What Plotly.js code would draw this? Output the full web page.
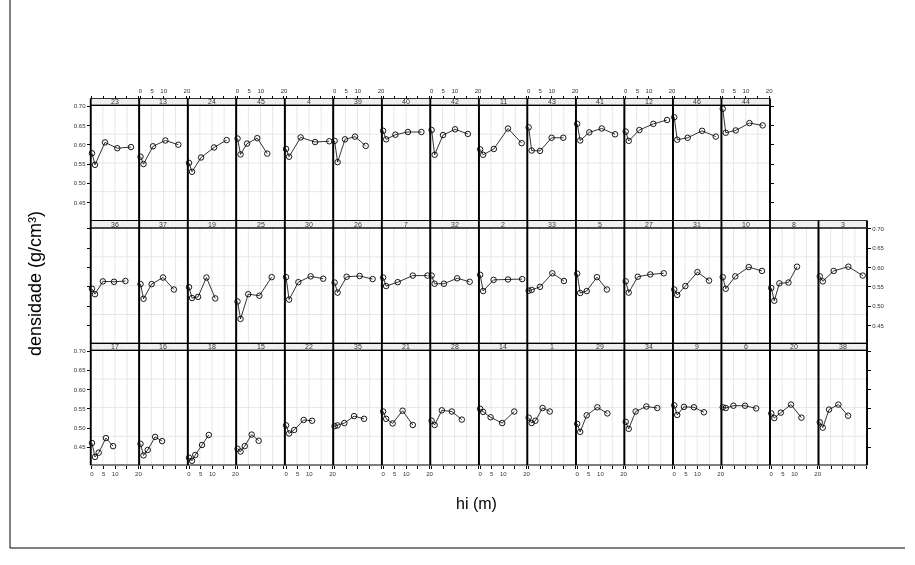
<!DOCTYPE html>
<html><head><meta charset="utf-8">
<script src="https://cdn.plot.ly/plotly-3.0.1.min.js"></script>
<style>html,body{margin:0;padding:0;background:#fff}#chart{width:915px;height:565px;filter:grayscale(100%)}</style>
</head><body><div id="chart"></div>
<script>
// ---- data ----
const row1Labels = ["23","13","24","45","4","39","40","42","11","43","41","12","46","44"];
const row1X = [
 [0,1.3,5.6,10.9,16.8],[0,1.3,5.4,10.7,16.3],[0,1.3,5.2,10.8,16.2],[0,1.3,4.1,8.5,12.8],
 [0,1.3,6.3,12.5,18.6],[0,1.3,4.5,8.8,13.4],[0,1.3,5.3,10.7,16.5],[0,1.3,4.9,10.1,15.6],
 [0,1.3,5.9,12.0,17.9],[0,1.3,4.9,9.9,14.9],[0,1.3,5.2,10.6,16.3],[0,1.3,5.9,11.9,17.8],
 [0,1.3,5.8,12.0,17.9],[0,1.3,5.6,11.5,17.2]];
const row1Y = [
 [0.578,0.548,0.606,0.591,0.594],[0.569,0.550,0.596,0.611,0.600],[0.553,0.530,0.567,0.593,0.612],
 [0.616,0.575,0.603,0.617,0.577],[0.589,0.569,0.619,0.607,0.609],[0.610,0.555,0.614,0.621,0.597],
 [0.636,0.614,0.626,0.633,0.633],[0.638,0.574,0.625,0.640,0.628],[0.588,0.574,0.589,0.642,0.604],
 [0.645,0.585,0.584,0.618,0.618],[0.654,0.611,0.632,0.642,0.627],[0.634,0.610,0.638,0.654,0.664],
 [0.671,0.613,0.618,0.636,0.621],[0.693,0.631,0.637,0.656,0.650]];

const row2Labels = ["36","37","19","25","30","26","7","32","2","33","5","27","31","10","8","3"];
const row2X = [
 [0,1.3,4.7,9.5,14.4],[0,1.3,4.8,9.7,14.4],[0,1.3,3.9,7.5,11.3],[0,1.3,4.6,9.4,14.7],
 [0,1.3,5.3,10.6,16.0],[0,1.3,5.2,10.8,16.4],[0,1.3,6.3,12.8,19.1],[0,1.3,5.3,11.0,16.4],
 [0,1.3,5.8,12.0,18.1],[0,1.3,4.9,10.2,15.2],[0,1.3,4.1,8.5,12.8],[0,1.3,5.2,10.6,16.4],
 [0,1.3,4.8,10.0,15.0],[0,1.3,5.4,11.2,16.9],[0,1.3,3.5,7.4,11.1],[0,1.3,6.0,12.3,18.5]];
const row2Y = [
 [0.545,0.531,0.564,0.563,0.565],[0.557,0.519,0.557,0.574,0.543],[0.549,0.521,0.524,0.574,0.520],
 [0.512,0.467,0.531,0.527,0.575],[0.575,0.517,0.562,0.577,0.571],[0.561,0.535,0.576,0.578,0.570],
 [0.574,0.552,0.562,0.579,0.579],[0.579,0.558,0.558,0.572,0.563],[0.581,0.539,0.568,0.569,0.570],
 [0.540,0.542,0.550,0.585,0.565],[0.584,0.534,0.539,0.575,0.543],[0.564,0.535,0.576,0.582,0.585],
 [0.543,0.529,0.552,0.588,0.566],[0.575,0.545,0.577,0.601,0.591],[0.547,0.514,0.559,0.561,0.602],
 [0.577,0.564,0.591,0.602,0.579]];

const row3Labels = ["17","16","18","15","22","35","21","28","14","1","29","34","9","6","20","38"];
const row3X = [
 [0,1.3,2.9,6.0,9.1],[0,1.3,3.1,6.3,9.3],[0,1.3,2.7,5.6,8.5],[0,1.3,3.1,6.1,9.1],
 [0,1.3,3.5,7.6,11.2],[0,1.3,4.2,8.4,12.7],[0,1.3,4.1,8.4,12.8],[0,1.3,4.4,8.7,13.0],
 [0,1.3,4.5,9.5,14.7],[0,1.3,2.9,6.0,9.1],[0,1.3,4.1,8.7,13.0],[0,1.3,4.3,8.9,13.6],
 [0,1.3,4.2,8.5,12.8],[0,1.3,4.6,9.6,14.4],[0,1.3,4.1,8.5,13.0],[0,1.3,4.0,8.0,12.2]];
const row3Y = [
 [0.461,0.425,0.436,0.474,0.453],[0.459,0.429,0.443,0.477,0.466],[0.423,0.415,0.430,0.456,0.482],
 [0.446,0.439,0.453,0.483,0.467],[0.507,0.486,0.495,0.521,0.519],[0.505,0.507,0.513,0.531,0.524],
 [0.543,0.524,0.512,0.545,0.508],[0.519,0.508,0.546,0.543,0.522],[0.550,0.542,0.528,0.513,0.543],
 [0.527,0.513,0.519,0.552,0.543],[0.511,0.490,0.533,0.554,0.538],[0.516,0.498,0.543,0.556,0.552],
 [0.559,0.534,0.555,0.554,0.541],[0.554,0.552,0.558,0.558,0.551],[0.538,0.526,0.540,0.561,0.527],
 [0.515,0.501,0.548,0.561,0.532]];

const yTickVals = [0.45,0.50,0.55,0.60,0.65,0.70];
const xTickVals = [0,5,10,15,20];
const xTickText = ["0","5","10","","20"];
const yTitle = "densidade (g/cm³)";
const xTitle = "hi (m)";

// ---- layout geometry ----
const W=915, H=565;
const PX0=90.7, PW=48.52;
const XRANGE=[-0.55,20.35], YRANGE=[0.404,0.702];
const rowsPx = [
 {strip:[98.5,105.3], panel:[105.3,220.5]},
 {strip:[220.5,228.0], panel:[228.0,343.3]},
 {strip:[343.3,350.3], panel:[350.3,465.0]}
];
const rows = [
 {labels:row1Labels, x:row1X, y:row1Y},
 {labels:row2Labels, x:row2X, y:row2Y},
 {labels:row3Labels, x:row3X, y:row3Y}
];
const fx = p => p/W, fy = p => 1 - p/H;
const FONT = "Liberation Sans, Arial, Helvetica, sans-serif";
const tickFont = {family:FONT, size:6, color:'#333'};

const traces=[], shapes=[], annotations=[];
const layout = {
  width:W, height:H, margin:{l:0,r:0,t:0,b:0},
  paper_bgcolor:'#fff', plot_bgcolor:'rgba(0,0,0,0)', showlegend:false,
  font:{family:FONT}
};
let n=0;
rows.forEach((row,r)=>{
  const np=row.labels.length;
  const [T,B]=rowsPx[r].panel, [ST,SB]=rowsPx[r].strip;
  row.labels.forEach((lab,i)=>{
    n++;
    const xa = n===1?'xaxis':'xaxis'+n, ya = n===1?'yaxis':'yaxis'+n;
    const xid = n===1?'x':'x'+n, yid = n===1?'y':'y'+n;
    const L=PX0+PW*i, R=L+PW;
    traces.push({type:'scatter', mode:'lines+markers', x:row.x[i], y:row.y[i],
      xaxis:xid, yaxis:yid, cliponaxis:false,
      line:{color:'#000', width:0.8},
      marker:{symbol:'circle-open', size:5.5, color:'#000', line:{width:0.9, color:'#000'}},
      hoverinfo:'skip'});
    const xAx = {domain:[fx(L),fx(R)], range:XRANGE, showgrid:false, zeroline:false, showline:false,
      fixedrange:true, tickvals:xTickVals, ticktext:xTickText, tickfont:tickFont,
      ticks:'', showticklabels:false, anchor:yid, automargin:false,
      tickcolor:'#000', tickwidth:1, ticklen:3};
    if (r===0){ xAx.side='top'; xAx.anchor='free'; xAx.position=fy(ST); xAx.ticks='outside'; xAx.showticklabels=(i%2===1); }
    if (r===2){ xAx.ticks='outside'; xAx.showticklabels=(i%2===0); }
    layout[xa]=xAx;
    const yAx = {domain:[fy(B),fy(T)], range:YRANGE, showgrid:false, zeroline:false, showline:false,
      fixedrange:true, tickvals:yTickVals, tickformat:'.2f', tickfont:tickFont,
      ticks:'', showticklabels:false, anchor:xid, automargin:false,
      tickcolor:'#000', tickwidth:1, ticklen:3};
    if (i===0){ yAx.ticks='outside'; yAx.showticklabels=(r!==1); }
    if (i===np-1){ yAx.side='right'; yAx.ticks='outside'; yAx.showticklabels=(r===1); }
    layout[ya]=yAx;
    // grid lines at quarter points
    for (let k=1;k<4;k++){
      const gx=L+PW*k/4, gy=T+(B-T)*k/4;
      shapes.push({type:'line', xref:'paper', yref:'paper', x0:fx(gx), x1:fx(gx), y0:fy(T), y1:fy(B),
        line:{color:'#e6e6e6', width:1}, layer:'below'});
      shapes.push({type:'line', xref:'paper', yref:'paper', x0:fx(L), x1:fx(R), y0:fy(gy), y1:fy(gy),
        line:{color:'#e6e6e6', width:1}, layer:'below'});
    }
    // strip
    shapes.push({type:'rect', xref:'paper', yref:'paper', x0:fx(L), x1:fx(R), y0:fy(SB), y1:fy(ST),
      fillcolor:'#efefef', line:{color:'#000', width:0.8}, layer:'below'});
    annotations.push({xref:'paper', yref:'paper', x:fx((L+R)/2), y:fy((ST+SB)/2), text:lab,
      showarrow:false, xanchor:'center', yanchor:'middle', font:{family:FONT, size:7, color:'#333'}});
    // panel border
    shapes.push({type:'rect', xref:'paper', yref:'paper', x0:fx(L), x1:fx(R), y0:fy(B), y1:fy(T),
      line:{color:'#000', width:1.2}, layer:'above'});
    shapes.push({type:'line', xref:'paper', yref:'paper', x0:fx(L), x1:fx(L), y0:fy(B), y1:fy(ST),
      line:{color:'#000', width:1.8}, layer:'above'});
    if (i===np-1) shapes.push({type:'line', xref:'paper', yref:'paper', x0:fx(R), x1:fx(R), y0:fy(B), y1:fy(ST),
      line:{color:'#000', width:1.8}, layer:'above'});
  });
});
// outer frame
shapes.push({type:'line', xref:'paper', yref:'paper', x0:fx(10), x1:fx(10), y0:fy(0), y1:fy(548), line:{color:'#000', width:1}});
shapes.push({type:'line', xref:'paper', yref:'paper', x0:fx(10), x1:fx(905), y0:fy(548), y1:fy(548), line:{color:'#000', width:1}});
// titles
annotations.push({xref:'paper', yref:'paper', x:fx(35), y:fy(284), text:yTitle, textangle:-90, showarrow:false,
  xanchor:'center', yanchor:'middle', font:{family:FONT, size:18, color:'#000'}});
annotations.push({xref:'paper', yref:'paper', x:fx(476), y:fy(503), text:xTitle, showarrow:false,
  xanchor:'center', yanchor:'middle', font:{family:FONT, size:16, color:'#000'}});
layout.shapes=shapes; layout.annotations=annotations;
Plotly.newPlot('chart', traces, layout, {displayModeBar:false, staticPlot:true});
</script></body></html>
